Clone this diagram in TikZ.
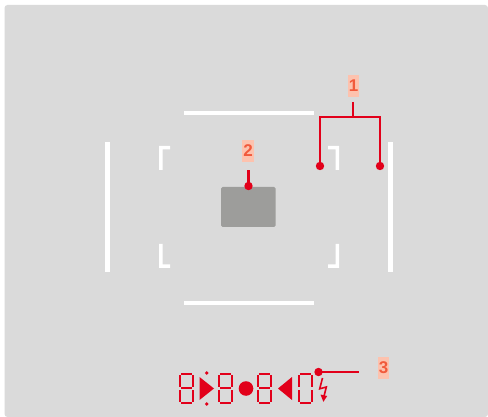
\documentclass[tikz,border=0pt]{standalone}
\usepackage{fontspec}
\setmainfont{Liberation Sans}
\definecolor{panel}{HTML}{DADADA}
\definecolor{lred}{HTML}{E2001A}
\definecolor{lblbg}{HTML}{FDC2AE}
\definecolor{lbltx}{HTML}{F15A3C}
\definecolor{focus}{HTML}{9D9D9B}
\tikzset{
  x=1pt,y=-1pt,
  framebar/.style={fill=white,draw=none},
  conn/.style={draw=lred,line width=2.2pt},
  pin/.style={circle,fill=lred,draw=none,inner sep=0pt,minimum size=8.4pt},
  lbl/.style={fill=lblbg,text=lbltx,font=\bfseries\fontsize{17}{17}\selectfont,inner sep=0pt,minimum width=11.5pt,minimum height=22pt},
  seg/.style={draw=lred,line width=2pt},
  solidred/.style={fill=lred,draw=none},
  zero/.pic={
    \draw[seg] (2,0.8)--(13,0.8);
    \draw[seg] (2,30.2)--(13,30.2);
    \draw[seg] (1,2)--(1,14);
    \draw[seg] (14,2)--(14,14);
    \draw[seg] (1,17)--(1,29);
    \draw[seg] (14,17)--(14,29);
  },
  digit/.pic={
    \pic {zero};
    \draw[seg] (2,15.3)--(13,15.3);
  }
}
\begin{document}
\begin{tikzpicture}
\useasboundingbox (0,0) rectangle (488,417);
\fill[white] (0,0) rectangle (488,417);
\fill[panel,rounded corners=3pt] (4.5,5) rectangle (488,417);
% frame lines
\fill[framebar] (184,111) rectangle (314,115.5);
\fill[framebar] (184,301) rectangle (314,305.5);
\fill[framebar] (105,142) rectangle (110,272);
\fill[framebar] (388,142) rectangle (392.7,272);
\fill[framebar] (159,146) -- (170,146) -- (170,149.5) -- (162.5,149.5) -- (162.5,170) -- (159,170) -- cycle;
\fill[framebar] (159,268) -- (170,268) -- (170,264.5) -- (162.5,264.5) -- (162.5,244) -- (159,244) -- cycle;
\fill[framebar] (339,146) -- (328,146) -- (328,149.5) -- (335.5,149.5) -- (335.5,170) -- (339,170) -- cycle;
\fill[framebar] (339,268) -- (328,268) -- (328,264.5) -- (335.5,264.5) -- (335.5,244) -- (339,244) -- cycle;
% focus field
\fill[focus,rounded corners=1.5pt] (221,187) rectangle (275.5,227);
% display
\pic at (179,373) {digit};
\pic at (218,373) {digit};
\pic at (257,373) {digit};
\pic at (298,373) {zero};
\fill[solidred] (199.5,377) -- (214,388.5) -- (199.5,400) -- cycle;
\fill[solidred] (292,377) -- (278,388.5) -- (292,400) -- cycle;
\node[pin,minimum size=3.6pt] (dotA) at (206.7,373) {};
\node[pin,minimum size=3.6pt] (dotB) at (206.7,404) {};
\node[pin,minimum size=14.6pt] (bigdot) at (246,388.5) {};
\draw[draw=lred,line width=1.6pt,line join=miter] (322.5,378) -- (319.7,388.8) -- (326.3,387) -- (323.8,397);
\fill[solidred] (320.5,394.5) -- (327.2,396) -- (323.4,401.8) -- cycle;
% labels
\node[lbl] (l1) at (353.5,86) {1};
\node[lbl] (l2) at (248,151) {2};
\node[lbl] (l3) at (383.5,368) {3};
% pins
\node[pin] (p1a) at (320,166) {};
\node[pin] (p1b) at (380,166) {};
\node[pin] (p2) at (248.5,186) {};
\node[pin] (p3) at (318.5,372) {};
\coordinate (t1) at (353,102);
\coordinate (j1) at (353,117.3);
\coordinate (t2) at (248.5,170.5);
\coordinate (t3) at (359,372);
\draw[conn] (t1) -- (j1);
\draw[conn] (p1a.center) |- (j1) -| (p1b.center);
\draw[conn] (t2) -- (p2.center);
\draw[conn] (p3.center) -- (t3);
\end{tikzpicture}
\end{document}
